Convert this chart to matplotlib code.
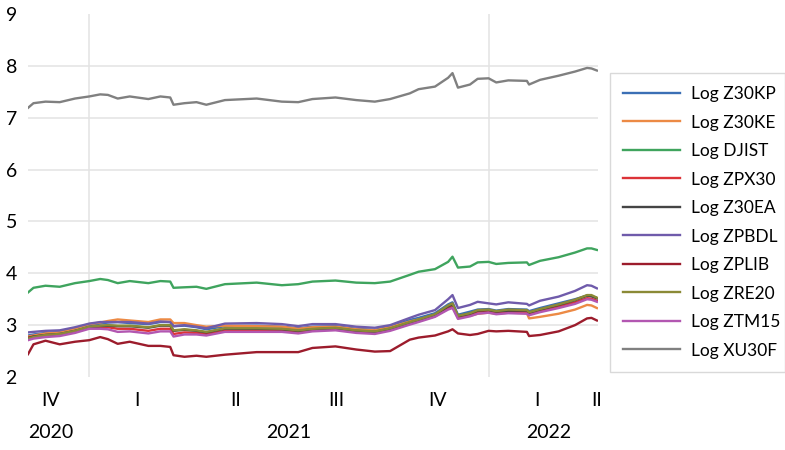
import pandas as pd
import matplotlib.pyplot as plt
import matplotlib.dates as mdates
import matplotlib.transforms as mtransforms

plt.rcParams['font.family'] = ['Lato', 'DejaVu Sans']

'''Data (read off the reference chart)'''
dates = ["2020-11-06", "2020-11-11", "2020-11-22", "2020-12-05", "2020-12-19",
         "2021-01-01", "2021-01-11", "2021-01-18", "2021-01-27", "2021-02-07",
         "2021-02-24", "2021-03-07", "2021-03-16", "2021-03-19", "2021-03-29",
         "2021-04-09", "2021-04-18", "2021-05-05", "2021-06-03", "2021-06-26",
         "2021-07-11", "2021-07-24", "2021-08-14", "2021-09-02", "2021-09-19",
         "2021-10-03", "2021-10-21", "2021-10-29", "2021-11-13", "2021-11-25",
         "2021-11-29", "2021-12-04", "2021-12-15", "2021-12-22", "2022-01-01",
         "2022-01-08", "2022-01-19", "2022-02-05", "2022-02-07", "2022-02-17",
         "2022-03-06", "2022-03-21", "2022-04-01", "2022-04-05", "2022-04-10"]

z30kp = [2.80, 2.82, 2.85, 2.87, 2.92, 3.00, 3.03, 3.05, 3.06, 3.04,
         3.02, 3.06, 3.06, 2.98, 2.99, 2.96, 2.92, 2.98, 2.99, 2.97,
         2.94, 2.97, 2.98, 2.93, 2.91, 2.97, 3.10, 3.14, 3.23, 3.40,
         3.44, 3.20, 3.26, 3.30, 3.31, 3.28, 3.31, 3.30, 3.27, 3.33,
         3.42, 3.50, 3.57, 3.56, 3.52]
z30ke = [2.78, 2.80, 2.84, 2.86, 2.93, 3.02, 3.05, 3.08, 3.11, 3.09,
         3.06, 3.11, 3.11, 3.04, 3.04, 3.00, 2.97, 2.99, 2.98, 2.97,
         2.93, 2.96, 2.97, 2.92, 2.90, 2.96, 3.07, 3.11, 3.20, 3.33,
         3.37, 3.16, 3.18, 3.22, 3.24, 3.22, 3.24, 3.23, 3.13, 3.16,
         3.22, 3.30, 3.39, 3.38, 3.33]
djist = [3.63, 3.72, 3.76, 3.74, 3.81, 3.85, 3.89, 3.87, 3.81, 3.85,
         3.81, 3.85, 3.84, 3.72, 3.73, 3.74, 3.70, 3.79, 3.82, 3.77,
         3.79, 3.84, 3.86, 3.82, 3.81, 3.84, 3.97, 4.03, 4.08, 4.22,
         4.32, 4.11, 4.13, 4.21, 4.22, 4.18, 4.20, 4.21, 4.16, 4.24,
         4.31, 4.40, 4.48, 4.48, 4.45]
zpx30 = [2.76, 2.78, 2.81, 2.82, 2.88, 2.95, 2.96, 2.96, 2.93, 2.93,
         2.89, 2.93, 2.93, 2.83, 2.86, 2.85, 2.83, 2.89, 2.90, 2.89,
         2.87, 2.90, 2.92, 2.87, 2.85, 2.91, 3.03, 3.08, 3.17, 3.32,
         3.36, 3.14, 3.20, 3.26, 3.28, 3.24, 3.26, 3.26, 3.22, 3.28,
         3.36, 3.44, 3.52, 3.51, 3.47]
z30ea = [2.75, 2.78, 2.81, 2.83, 2.89, 2.96, 2.98, 2.99, 2.98, 2.98,
         2.95, 2.99, 2.99, 2.89, 2.91, 2.89, 2.86, 2.93, 2.93, 2.92,
         2.89, 2.92, 2.94, 2.89, 2.87, 2.93, 3.05, 3.10, 3.20, 3.36,
         3.40, 3.17, 3.22, 3.28, 3.29, 3.26, 3.28, 3.28, 3.24, 3.30,
         3.39, 3.48, 3.57, 3.56, 3.52]
zpbdl = [2.86, 2.87, 2.89, 2.90, 2.96, 3.03, 3.06, 3.06, 3.06, 3.06,
         3.03, 3.07, 3.06, 2.98, 3.00, 2.97, 2.94, 3.03, 3.04, 3.02,
         2.98, 3.02, 3.02, 2.97, 2.95, 3.00, 3.14, 3.20, 3.29, 3.50,
         3.58, 3.33, 3.39, 3.45, 3.42, 3.40, 3.44, 3.41, 3.38, 3.47,
         3.55, 3.66, 3.77, 3.76, 3.71]
zplib = [2.44, 2.63, 2.70, 2.63, 2.68, 2.71, 2.77, 2.73, 2.64, 2.68,
         2.60, 2.60, 2.58, 2.42, 2.39, 2.41, 2.39, 2.43, 2.48, 2.48,
         2.48, 2.56, 2.59, 2.53, 2.49, 2.50, 2.72, 2.76, 2.80, 2.88,
         2.92, 2.84, 2.81, 2.83, 2.89, 2.88, 2.89, 2.87, 2.79, 2.81,
         2.88, 3.00, 3.13, 3.14, 3.09]
zre20 = [2.74, 2.77, 2.81, 2.83, 2.89, 2.97, 2.99, 3.00, 2.99, 2.99,
         2.96, 3.00, 3.00, 2.90, 2.92, 2.90, 2.87, 2.94, 2.94, 2.93,
         2.90, 2.93, 2.95, 2.90, 2.88, 2.94, 3.06, 3.11, 3.21, 3.38,
         3.42, 3.18, 3.23, 3.29, 3.30, 3.27, 3.30, 3.29, 3.25, 3.31,
         3.40, 3.49, 3.58, 3.58, 3.53]
ztm15 = [2.71, 2.74, 2.77, 2.79, 2.85, 2.93, 2.93, 2.92, 2.87, 2.88,
         2.84, 2.88, 2.88, 2.78, 2.82, 2.82, 2.80, 2.87, 2.87, 2.87,
         2.84, 2.88, 2.90, 2.85, 2.83, 2.89, 3.01, 3.06, 3.16, 3.30,
         3.33, 3.12, 3.17, 3.22, 3.24, 3.21, 3.23, 3.22, 3.19, 3.25,
         3.33, 3.41, 3.50, 3.49, 3.45]
xu30f = [7.19, 7.28, 7.31, 7.30, 7.37, 7.41, 7.45, 7.44, 7.37, 7.41,
         7.36, 7.41, 7.39, 7.25, 7.28, 7.30, 7.25, 7.34, 7.37, 7.31,
         7.30, 7.36, 7.39, 7.34, 7.31, 7.36, 7.47, 7.55, 7.60, 7.77,
         7.86, 7.58, 7.64, 7.75, 7.76, 7.68, 7.72, 7.71, 7.64, 7.73,
         7.81, 7.89, 7.96, 7.95, 7.91]

names = ["Log Z30KP", "Log Z30KE", "Log DJIST", "Log ZPX30", "Log Z30EA",
         "Log ZPBDL", "Log ZPLIB", "Log ZRE20", "Log ZTM15", "Log XU30F"]
series = [z30kp, z30ke, djist, zpx30, z30ea, zpbdl, zplib, zre20, ztm15, xu30f]
colors = ["#3b6fb5", "#ec8a45", "#3fa45e", "#dc3338", "#454545",
          "#6f5bab", "#9c1c2c", "#8b8a36", "#b257b1", "#808080"]

quarter_labels = ["IV", "I", "II", "III", "IV", "I", "II"]
quarter_pos = ["2020-11-27", "2021-02-14", "2021-05-15", "2021-08-15",
               "2021-11-15", "2022-02-14", "2022-04-10"]
year_labels = ["2020", "2021", "2022"]
year_pos = ["2020-11-27", "2021-07-02", "2022-02-25"]
year_lines = ["2021-01-01", "2022-01-01"]
y_grid = [3, 4, 5, 6, 7, 8]

'''Plot'''
x = mdates.date2num(pd.to_datetime(dates))
fig = plt.figure(figsize=(7.85, 4.5), dpi=100)
ax = fig.add_axes([28 / 785, 1 - 377 / 450, 570 / 785, 363 / 450])

for g in y_grid:
    ax.axhline(g, color="#e3e3e3", lw=1.1, zorder=0)
for d in year_lines:
    ax.axvline(mdates.date2num(pd.Timestamp(d)), color="#e3e3e3", lw=1.1, zorder=0)

for s, name, c in zip(series, names, colors):
    ax.plot(x, s, color=c, lw=1.7, label=name)

ax.set_ylim(2, 9)
ax.set_xlim(x[0], mdates.date2num(pd.Timestamp("2022-04-11")))
ax.set_yticks(range(2, 10))
ax.tick_params(axis="y", length=0, pad=8, labelsize=14)

# quarters on the axis, years as a second row of text
ax.set_xticks(mdates.date2num(pd.to_datetime(quarter_pos)))
ax.set_xticklabels(quarter_labels)
ax.tick_params(axis="x", length=0, pad=11, labelsize=14)
trans = mtransforms.blended_transform_factory(ax.transData, ax.transAxes)
for lab, pos in zip(year_labels, year_pos):
    ax.text(mdates.date2num(pd.Timestamp(pos)), -0.154, lab, transform=trans,
            ha="center", va="center", fontsize=14)

for sp in ax.spines.values():
    sp.set_visible(False)

leg = fig.legend(loc="upper left", bbox_to_anchor=(610 / 785, 1 - 73 / 450, 175 / 785, 0.0),
                 mode="expand", fontsize=12.5, handlelength=3.3, handletextpad=0.6,
                 labelspacing=0.72, borderpad=0.75, borderaxespad=0, fancybox=False,
                 edgecolor="#d9d9d9", framealpha=1)
leg.get_frame().set_linewidth(1)

plt.savefig("out.png", dpi=100)
